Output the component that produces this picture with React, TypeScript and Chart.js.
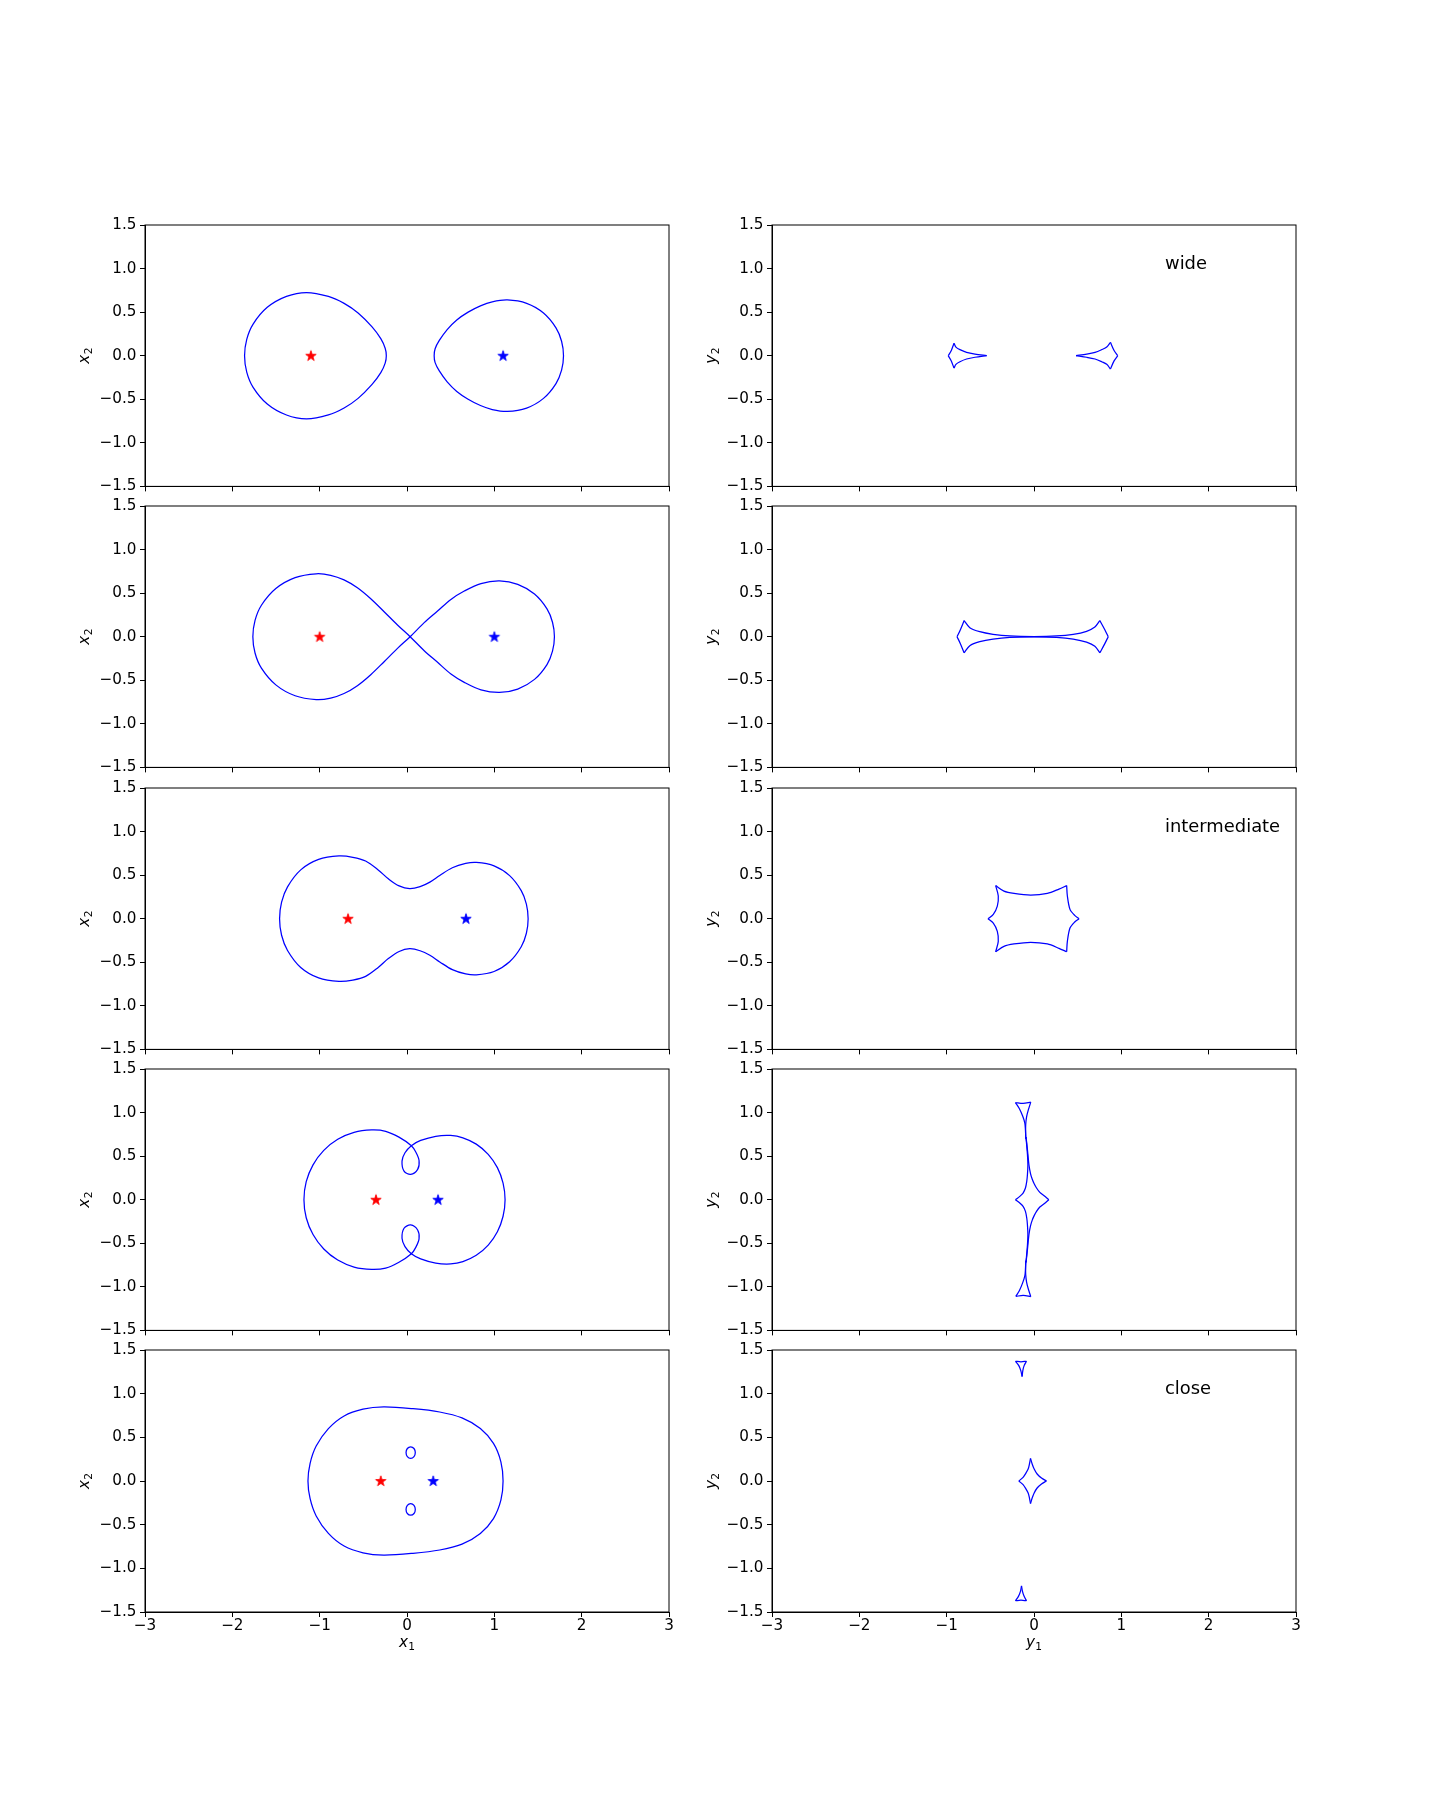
import React, { useEffect, useRef } from "react";
import { Chart, registerables } from "chart.js";

Chart.register(...registerables);

// ---------------- data ----------------
const xTickValues = [-3, -2, -1, 0, 1, 2, 3];
const yTickValues = [-1.5, -1.0, -0.5, 0.0, 0.5, 1.0, 1.5];
const rowLabels = ["wide", "", "intermediate", "", "close"];

// lens positions (red = first mass, blue = second mass)
const r1Stars = [[-1.1, 0], [1.1, 0]];
const r2Stars = [[-1.0, 0], [1.0, 0]];
const r3Stars = [[-0.675, 0], [0.675, 0]];
const r4Stars = [[-0.355, 0], [0.355, 0]];
const r5Stars = [[-0.3, 0], [0.3, 0]];

// ---- row 1 (wide): critical curves (closed: last point repeats the first)
const r1CritLeft = [
  [-1.15, 0.725], [-1.38, 0.681], [-1.6, 0.555], [-1.762, 0.363], [-1.835, 0.188], [-1.86, 0],
  [-1.835, -0.188], [-1.762, -0.363], [-1.6, -0.555], [-1.38, -0.681], [-1.15, -0.725],
  [-0.9, -0.68], [-0.72, -0.6], [-0.56, -0.49], [-0.4, -0.33], [-0.3, -0.195], [-0.25, -0.085],
  [-0.237, 0], [-0.25, 0.085], [-0.3, 0.195], [-0.4, 0.33], [-0.56, 0.49], [-0.72, 0.6],
  [-0.9, 0.68], [-1.15, 0.725],
];
const r1CritRight = [
  [1.149, 0.64], [0.976, 0.618], [0.841, 0.572], [0.7, 0.5], [0.57, 0.41], [0.46, 0.3], [0.37, 0.175],
  [0.322, 0.08], [0.311, 0], [0.322, -0.08], [0.37, -0.175], [0.46, -0.3], [0.57, -0.41], [0.7, -0.5],
  [0.841, -0.572], [0.976, -0.618], [1.149, -0.64], [1.37, -0.601], [1.563, -0.49],
  [1.706, -0.32], [1.77, -0.166], [1.792, 0], [1.77, 0.166], [1.706, 0.32], [1.563, 0.49],
  [1.37, 0.601], [1.149, 0.64],
];
// ---- row 1: caustics (each arc runs cusp to cusp)
const r1CausticLeft = [
  [[-0.982, 0], [-0.947, 0.06], [-0.916, 0.143]],
  [[-0.916, 0.143], [-0.894, 0.099], [-0.848, 0.069], [-0.772, 0.038], [-0.676, 0.018], [-0.542, 0]],
  [[-0.542, 0], [-0.676, -0.018], [-0.772, -0.038], [-0.848, -0.069], [-0.894, -0.099], [-0.916, -0.143]],
  [[-0.916, -0.143], [-0.947, -0.06], [-0.982, 0]],
];
const r1CausticRight = [
  [[0.959, 0], [0.917, 0.06], [0.875, 0.153]],
  [[0.875, 0.153], [0.833, 0.099], [0.775, 0.069], [0.699, 0.038], [0.604, 0.018], [0.481, 0]],
  [[0.481, 0], [0.604, -0.018], [0.699, -0.038], [0.775, -0.069], [0.833, -0.099], [0.875, -0.153]],
  [[0.875, -0.153], [0.917, -0.06], [0.959, 0]],
];

// ---- row 2: critical curve (figure eight)
const r2Crit = [
  [0.036, 0], [-0.109, 0.134], [-0.262, 0.287], [-0.415, 0.436], [-0.568, 0.562], [-0.721, 0.652],
  [-0.874, 0.705], [-1.04, 0.722], [-1.281, 0.678], [-1.502, 0.553], [-1.667, 0.361], [-1.74, 0.187],
  [-1.765, 0], [-1.74, -0.187], [-1.667, -0.361], [-1.502, -0.553], [-1.281, -0.678], [-1.04, -0.722],
  [-0.874, -0.705], [-0.721, -0.652], [-0.568, -0.562], [-0.415, -0.436], [-0.262, -0.287],
  [-0.109, -0.134], [0.036, 0],
  [0.197, 0.161], [0.35, 0.294], [0.503, 0.428], [0.656, 0.524], [0.847, 0.61], [1.06, 0.64],
  [1.268, 0.601], [1.46, 0.49], [1.603, 0.32], [1.666, 0.166], [1.688, 0],
  [1.666, -0.166], [1.603, -0.32], [1.46, -0.49], [1.268, -0.601], [1.06, -0.64],
  [0.847, -0.61], [0.656, -0.524], [0.503, -0.428], [0.35, -0.294], [0.197, -0.161], [0.036, 0],
];
const r2Caustic = [
  [[-0.881, 0], [-0.843, 0.08], [-0.8, 0.185]],
  [[-0.8, 0.185], [-0.735, 0.103], [-0.621, 0.057], [-0.469, 0.027], [-0.277, 0.008], [0, 0.002],
    [0.258, 0.008], [0.449, 0.027], [0.602, 0.062], [0.697, 0.11], [0.754, 0.185]],
  [[0.754, 0.185], [0.811, 0.08], [0.85, 0]],
  [[0.85, 0], [0.811, -0.08], [0.754, -0.185]],
  [[0.754, -0.185], [0.697, -0.11], [0.602, -0.062], [0.449, -0.027], [0.258, -0.008], [0, -0.002],
    [-0.277, -0.008], [-0.469, -0.027], [-0.621, -0.057], [-0.735, -0.103], [-0.8, -0.185]],
  [[-0.8, -0.185], [-0.843, -0.08], [-0.881, 0]],
];

// ---- row 3 (intermediate)
const r3Crit = [
  [-1.459, 0], [-1.436, 0.19], [-1.368, 0.365], [-1.217, 0.56], [-1.012, 0.68],
  [-0.779, 0.72], [-0.62, 0.705], [-0.474, 0.662], [-0.33, 0.56], [-0.21, 0.455], [-0.09, 0.376],
  [0.031, 0.345], [0.15, 0.368], [0.262, 0.42], [0.375, 0.496], [0.519, 0.585], [0.672, 0.634],
  [0.794, 0.645], [0.997, 0.606], [1.175, 0.494], [1.308, 0.322], [1.367, 0.167], [1.387, 0],
  [1.367, -0.167], [1.308, -0.322], [1.175, -0.494], [0.997, -0.606], [0.794, -0.645], [0.672, -0.634],
  [0.519, -0.585], [0.375, -0.496], [0.262, -0.42], [0.15, -0.368], [0.031, -0.345], [-0.09, -0.376],
  [-0.21, -0.455], [-0.33, -0.56], [-0.474, -0.662], [-0.62, -0.705], [-0.779, -0.72],
  [-1.012, -0.68], [-1.217, -0.56], [-1.368, -0.365], [-1.436, -0.19], [-1.459, 0],
];
const r3Caustic = [
  [[-0.527, 0], [-0.466, 0.05], [-0.42, 0.145], [-0.409, 0.26], [-0.439, 0.38]],
  [[-0.439, 0.38], [-0.344, 0.317], [-0.229, 0.29], [-0.038, 0.271], [0.153, 0.29], [0.286, 0.34], [0.374, 0.38]],
  [[0.374, 0.38], [0.382, 0.26], [0.412, 0.107], [0.466, 0.038], [0.516, 0]],
  [[0.516, 0], [0.466, -0.038], [0.412, -0.107], [0.382, -0.26], [0.374, -0.38]],
  [[0.374, -0.38], [0.286, -0.34], [0.153, -0.29], [-0.038, -0.271], [-0.229, -0.29], [-0.344, -0.317], [-0.439, -0.38]],
  [[-0.439, -0.38], [-0.409, -0.26], [-0.42, -0.145], [-0.466, -0.05], [-0.527, 0]],
];

// ---- row 4
const r4Crit = [
  [-0.405, 0.8], [-0.244, 0.785], [-0.092, 0.718], [0.05, 0.62],
  [0.099, 0.55], [0.138, 0.45], [0.122, 0.348], [0.042, 0.29], [-0.034, 0.328], [-0.057, 0.443],
  [-0.023, 0.539], [0.05, 0.62],
  [0.157, 0.68], [0.329, 0.728], [0.5, 0.737], [0.64, 0.71], [0.793, 0.638], [0.93, 0.521],
  [1.035, 0.368], [1.1, 0.19], [1.123, 0], [1.1, -0.19], [1.035, -0.368], [0.93, -0.521],
  [0.793, -0.638], [0.64, -0.71], [0.5, -0.737], [0.329, -0.728], [0.157, -0.68], [0.05, -0.62],
  [-0.023, -0.539], [-0.057, -0.443], [-0.034, -0.328], [0.042, -0.29], [0.122, -0.348],
  [0.138, -0.45], [0.099, -0.55], [0.05, -0.62],
  [-0.092, -0.718], [-0.244, -0.785], [-0.405, -0.8], [-0.606, -0.773], [-0.793, -0.693], [-0.953, -0.566],
  [-1.076, -0.4], [-1.154, -0.207], [-1.18, 0], [-1.154, 0.207], [-1.076, 0.4], [-0.953, 0.566],
  [-0.793, 0.693], [-0.606, 0.773], [-0.405, 0.8],
];
const r4CausticCentral = [
  [[-0.212, 0], [-0.163, 0.038], [-0.125, 0.076], [-0.098, 0.134], [-0.083, 0.21], [-0.075, 0.29],
    [-0.07, 0.4], [-0.075, 0.52], [-0.085, 0.64], [-0.092, 0.72]],
  [[0.17, 0], [0.116, 0.046], [0.067, 0.084], [0.029, 0.134], [0.002, 0.183], [-0.021, 0.237],
    [-0.04, 0.3], [-0.058, 0.4], [-0.07, 0.52], [-0.082, 0.64], [-0.092, 0.72]],
  [[0.17, 0], [0.116, -0.046], [0.067, -0.084], [0.029, -0.134], [0.002, -0.183], [-0.021, -0.237],
    [-0.04, -0.3], [-0.058, -0.4], [-0.07, -0.52], [-0.082, -0.64], [-0.092, -0.72]],
  [[-0.212, 0], [-0.163, -0.038], [-0.125, -0.076], [-0.098, -0.134], [-0.083, -0.21], [-0.075, -0.29],
    [-0.07, -0.4], [-0.075, -0.52], [-0.085, -0.64], [-0.092, -0.72]],
];
const r4CausticTop = [
  [[-0.212, 1.115], [-0.125, 1.105], [-0.037, 1.12]],
  [[-0.212, 1.115], [-0.17, 1.05], [-0.13, 0.96], [-0.105, 0.88], [-0.098, 0.8], [-0.094, 0.7]],
  [[-0.037, 1.12], [-0.065, 1.03], [-0.085, 0.95], [-0.095, 0.86], [-0.096, 0.78], [-0.094, 0.7]],
];
const r4CausticBottom = [
  [[-0.208, -1.11], [-0.123, -1.098], [-0.037, -1.112]],
  [[-0.208, -1.11], [-0.168, -1.045], [-0.13, -0.955], [-0.105, -0.875], [-0.098, -0.8], [-0.094, -0.7]],
  [[-0.037, -1.112], [-0.065, -1.025], [-0.085, -0.945], [-0.095, -0.86], [-0.096, -0.78], [-0.094, -0.7]],
];

// ---- row 5 (close)
const r5CritOuter = [
  [-0.267, 0.848], [-0.504, 0.822], [-0.72, 0.745], [-0.9, 0.6], [-1.04, 0.4], [-1.11, 0.2],
  [-1.134, 0], [-1.11, -0.2], [-1.04, -0.4], [-0.9, -0.6], [-0.72, -0.745], [-0.504, -0.822],
  [-0.267, -0.848], [0.069, -0.828], [0.374, -0.79], [0.63, -0.722], [0.84, -0.6], [0.99, -0.43],
  [1.075, -0.22], [1.1, 0], [1.075, 0.22], [0.99, 0.43], [0.84, 0.6], [0.63, 0.722],
  [0.374, 0.79], [0.069, 0.828], [-0.267, 0.848],
];
const r5OvalTop = [
  [0.042, 0.392], [0.08, 0.372], [0.095, 0.325], [0.08, 0.278], [0.042, 0.258], [0.004, 0.278],
  [-0.011, 0.325], [0.004, 0.372], [0.042, 0.392],
];
const r5OvalBottom = [
  [0.042, -0.392], [0.08, -0.372], [0.095, -0.325], [0.08, -0.278], [0.042, -0.258], [0.004, -0.278],
  [-0.011, -0.325], [0.004, -0.372], [0.042, -0.392],
];
const r5CausticCentral = [
  [[-0.174, 0], [-0.125, 0.042], [-0.094, 0.088], [-0.067, 0.137], [-0.052, 0.195], [-0.04, 0.258]],
  [[0.143, 0], [0.086, 0.034], [0.036, 0.08], [0.002, 0.137], [-0.021, 0.195], [-0.04, 0.258]],
  [[0.143, 0], [0.086, -0.034], [0.036, -0.08], [0.002, -0.137], [-0.021, -0.195], [-0.04, -0.258]],
  [[-0.174, 0], [-0.125, -0.042], [-0.094, -0.088], [-0.067, -0.137], [-0.052, -0.195], [-0.04, -0.258]],
];
const r5CausticTop = [
  [[-0.212, 1.371], [-0.149, 1.365], [-0.086, 1.371]],
  [[-0.212, 1.371], [-0.174, 1.321], [-0.151, 1.264], [-0.136, 1.196]],
  [[-0.086, 1.371], [-0.113, 1.321], [-0.128, 1.264], [-0.136, 1.196]],
];
const r5CausticBottom = [
  [[-0.212, -1.371], [-0.149, -1.365], [-0.086, -1.371]],
  [[-0.212, -1.371], [-0.178, -1.321], [-0.155, -1.264], [-0.143, -1.2]],
  [[-0.086, -1.371], [-0.113, -1.321], [-0.132, -1.264], [-0.143, -1.2]],
];

// ---------------- assembly ----------------
const starsByRow = [r1Stars, r2Stars, r3Stars, r4Stars, r5Stars];
const critByRow = [
  [r1CritLeft, r1CritRight],
  [r2Crit],
  [r3Crit],
  [r4Crit],
  [r5CritOuter, r5OvalTop, r5OvalBottom],
];
const causticByRow = [
  [...r1CausticLeft, ...r1CausticRight],
  r2Caustic,
  r3Caustic,
  [...r4CausticCentral, ...r4CausticTop, ...r4CausticBottom],
  [...r5CausticCentral, ...r5CausticTop, ...r5CausticBottom],
];

// ---------------- layout ----------------
const COL_X = [145, 772];
const ROW_Y = [225, 506, 788, 1069, 1350];
const AX_W = 524;
const AX_H = 262;
const PL = 80;
const PR = 18;
const PT = 14;
const PB = 12;
const PB_LAST = 54;
const FONT = '"DejaVu Sans", "Liberation Sans", sans-serif';
const TICK_SIZE = 15.2;
const BLUE = "#0000ff";
const RED = "#ff0000";

Chart.defaults.font.family = FONT;

const toPts = (a: number[][]) => a.map(([x, y]) => ({ x, y }));

// Closed curves: drop the repeated end point and let the line element wrap round smoothly.
const closedLoopPlugin = {
  id: "closedLoop",
  afterDatasetUpdate(chart: any, args: any) {
    const ds = chart.data.datasets[args.index];
    const line = args.meta && args.meta.dataset;
    if (ds && ds.closedCurve && line) {
      line._loop = true;
      line._fullLoop = true;
      line._segments = undefined;
      line._path = undefined;
      line._pointsUpdated = false;
    }
  },
};

function starImage(color: string): HTMLCanvasElement {
  const c = document.createElement("canvas");
  c.width = 14;
  c.height = 14;
  const ctx = c.getContext("2d")!;
  const R = 5.5;
  const r = 2.15;
  ctx.beginPath();
  for (let i = 0; i < 10; i++) {
    const rad = i % 2 === 0 ? R : r;
    const a = -Math.PI / 2 + (i * Math.PI) / 5;
    const px = 7 + rad * Math.cos(a);
    const py = 7.3 + rad * Math.sin(a);
    if (i === 0) ctx.moveTo(px, py);
    else ctx.lineTo(px, py);
  }
  ctx.closePath();
  ctx.fillStyle = color;
  ctx.fill();
  ctx.strokeStyle = color;
  ctx.lineWidth = 0.8;
  ctx.stroke();
  return c;
}

const fmtX = (v: number) => (v < 0 ? "\u2212" + Math.abs(v) : String(v));
const fmtY = (v: number) => {
  const s = Math.abs(v).toFixed(1);
  return v < -1e-9 ? "\u2212" + s : s;
};

function drawMath(ctx: CanvasRenderingContext2D, base: string, sub: string, x: number, y: number, rotate: boolean) {
  ctx.save();
  ctx.translate(x, y);
  if (rotate) ctx.rotate(-Math.PI / 2);
  ctx.fillStyle = "#000";
  ctx.textBaseline = "alphabetic";
  ctx.textAlign = "left";
  const f1 = `italic ${TICK_SIZE}px ${FONT}`;
  const f2 = `${(TICK_SIZE * 0.7).toFixed(2)}px ${FONT}`;
  ctx.font = f1;
  const w1 = ctx.measureText(base).width;
  ctx.font = f2;
  const w2 = ctx.measureText(sub).width;
  const total = w1 + w2 + 0.5;
  ctx.font = f1;
  ctx.fillText(base, -total / 2, 0);
  ctx.font = f2;
  ctx.fillText(sub, -total / 2 + w1 + 0.5, 3.2);
  ctx.restore();
}

function Panel({ row, col }: { row: number; col: number }) {
  const ref = useRef<HTMLCanvasElement | null>(null);
  const last = row === ROW_Y.length - 1;
  const w = PL + AX_W + PR;
  const h = PT + AX_H + (last ? PB_LAST : PB);

  useEffect(() => {
    const canvas = ref.current;
    if (!canvas) return;
    const datasets: any[] = [];
    if (col === 0) {
      const stars = starsByRow[row];
      datasets.push({
        data: toPts([stars[0]]),
        pointStyle: starImage(RED),
        pointRadius: 6,
        showLine: false,
      });
      datasets.push({
        data: toPts([stars[1]]),
        pointStyle: starImage(BLUE),
        pointRadius: 6,
        showLine: false,
      });
      critByRow[row].forEach((curve) => {
        const first = curve[0];
        const lastPt = curve[curve.length - 1];
        const closed = first[0] === lastPt[0] && first[1] === lastPt[1];
        datasets.push({
          data: toPts(closed ? curve.slice(0, -1) : curve),
          closedCurve: closed,
          showLine: true,
          borderColor: BLUE,
          borderWidth: 1.25,
          pointRadius: 0,
          tension: 0.33,
          fill: false,
        });
      });
    } else {
      causticByRow[row].forEach((arc) =>
        datasets.push({
          data: toPts(arc),
          showLine: true,
          borderColor: BLUE,
          borderWidth: 1.25,
          pointRadius: 0,
          tension: 0.3,
          fill: false,
        })
      );
    }

    const framePlugin = {
      id: "frameAndLabels",
      afterDraw(chart: any) {
        const { ctx, chartArea, scales } = chart;
        ctx.save();
        ctx.strokeStyle = "#000";
        ctx.lineWidth = 1;
        ctx.strokeRect(chartArea.left, chartArea.top, chartArea.right - chartArea.left, chartArea.bottom - chartArea.top);
        ctx.restore();
        const midY = (chartArea.top + chartArea.bottom) / 2;
        drawMath(ctx, col === 0 ? "x" : "y", "2", chartArea.left - 56, midY, true);
        if (last) {
          const midX = (chartArea.left + chartArea.right) / 2;
          drawMath(ctx, col === 0 ? "x" : "y", "1", midX, chartArea.bottom + 34.5, false);
        }
        if (col === 1 && rowLabels[row]) {
          ctx.save();
          ctx.fillStyle = "#000";
          ctx.font = `17.9px ${FONT}`;
          ctx.textAlign = "left";
          ctx.textBaseline = "alphabetic";
          ctx.fillText(rowLabels[row], scales.x.getPixelForValue(1.5), scales.y.getPixelForValue(1.0));
          ctx.restore();
        }
      },
    };

    const gridOpts = {
      drawOnChartArea: false,
      drawTicks: true,
      tickLength: 5,
      color: "#000",
      tickColor: "#000",
      lineWidth: 1,
    };

    const chart = new Chart(canvas, {
      type: "scatter",
      data: { datasets },
      options: {
        responsive: false,
        animation: false,
        devicePixelRatio: 1,
        events: [],
        layout: { padding: { top: PT, right: PR, left: 0, bottom: 0 } },
        plugins: { legend: { display: false }, tooltip: { enabled: false }, title: { display: false } },
        scales: {
          x: {
            type: "linear",
            min: -3,
            max: 3,
            afterBuildTicks: (s: any) => {
              s.ticks = xTickValues.map((v) => ({ value: v }));
            },
            afterFit: (s: any) => {
              s.height = last ? PB_LAST : PB;
            },
            ticks: {
              display: last,
              autoSkip: false,
              maxRotation: 0,
              padding: 0,
              color: "#000",
              font: { size: TICK_SIZE, family: FONT },
              callback: (v: any) => fmtX(Number(v)),
            },
            grid: gridOpts,
            border: { display: true, color: "#000", width: 1 },
          },
          y: {
            type: "linear",
            min: -1.5,
            max: 1.5,
            afterBuildTicks: (s: any) => {
              s.ticks = yTickValues.map((v) => ({ value: v }));
            },
            afterFit: (s: any) => {
              s.width = PL;
            },
            ticks: {
              autoSkip: false,
              padding: 3.5,
              color: "#000",
              font: { size: TICK_SIZE, family: FONT },
              callback: (v: any) => fmtY(Number(v)),
            },
            grid: gridOpts,
            border: { display: true, color: "#000", width: 1 },
          },
        },
      } as any,
      plugins: [closedLoopPlugin, framePlugin],
    });
    return () => chart.destroy();
  }, [row, col]);

  return (
    <canvas
      ref={ref}
      width={w}
      height={h}
      style={{
        position: "absolute",
        left: COL_X[col] - PL,
        top: ROW_Y[row] - PT,
        width: w,
        height: h,
      }}
    />
  );
}

export default function App() {
  const panels: React.ReactNode[] = [];
  for (let r = 0; r < ROW_Y.length; r++) {
    for (let c = 0; c < COL_X.length; c++) {
      panels.push(<Panel key={`${r}-${c}`} row={r} col={c} />);
    }
  }
  return (
    <div
      style={{
        position: "absolute",
        left: 0,
        top: 0,
        width: 1440,
        height: 1800,
        background: "#fff",
        overflow: "hidden",
      }}
    >
      {panels}
    </div>
  );
}
